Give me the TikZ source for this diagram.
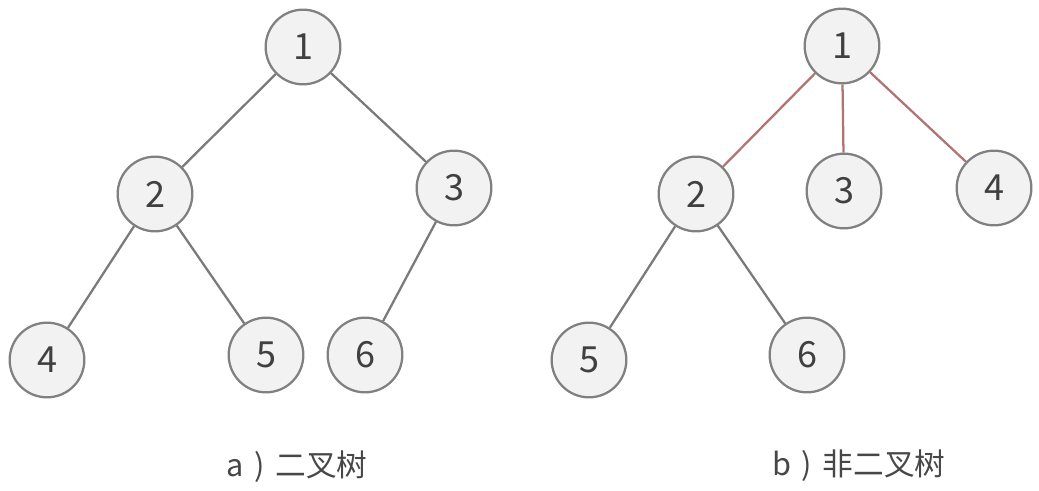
\documentclass[tikz,border=0pt]{standalone}
\usepackage{fontspec}
\setmainfont{Noto Sans CJK SC}
\begin{document}
\begin{tikzpicture}[x=0.75pt,y=-0.75pt,
  tnode/.style={circle,draw=black!50,fill=black!5,line width=1.7pt,minimum size=56pt,inner sep=0pt,text=black!75,font=\fontsize{27}{27}\selectfont},
  edge/.style={draw=black!52,line width=1.7pt},
  redge/.style={draw=red!45!black!55!white,line width=1.7pt},
  captext/.style={text=black!72,font=\fontsize{23}{26}\selectfont}]
\useasboundingbox (0,0) rectangle (1039,491);
% tree a
\node[tnode] (a1) at (303,47) {1};
\node[tnode] (a2) at (155,194) {2};
\node[tnode] (a3) at (454,188) {3};
\node[tnode] (a4) at (47,360) {4};
\node[tnode] (a5) at (266,355) {5};
\node[tnode] (a6) at (365,355) {6};
\draw[edge] (a1) -- (a2);
\draw[edge] (a1) -- (a3);
\draw[edge] (a2) -- (a4);
\draw[edge] (a2) -- (a5);
\draw[edge] (a3) -- (a6);
\node[captext] (ca) at (297,467) {a\hspace{8pt})\hspace{8pt}二叉树};
% tree b
\node[tnode] (b1) at (842,46) {1};
\node[tnode] (b2) at (696,194) {2};
\node[tnode] (b3) at (844,191) {3};
\node[tnode] (b4) at (994,188) {4};
\node[tnode] (b5) at (589,360) {5};
\node[tnode] (b6) at (807,355) {6};
\draw[redge] (b1) -- (b2);
\draw[redge] (b1) -- (b3);
\draw[redge] (b1) -- (b4);
\draw[edge] (b2) -- (b5);
\draw[edge] (b2) -- (b6);
\node[captext] (cb) at (859,466) {b\hspace{8pt})\hspace{8pt}非二叉树};
\end{tikzpicture}
\end{document}
